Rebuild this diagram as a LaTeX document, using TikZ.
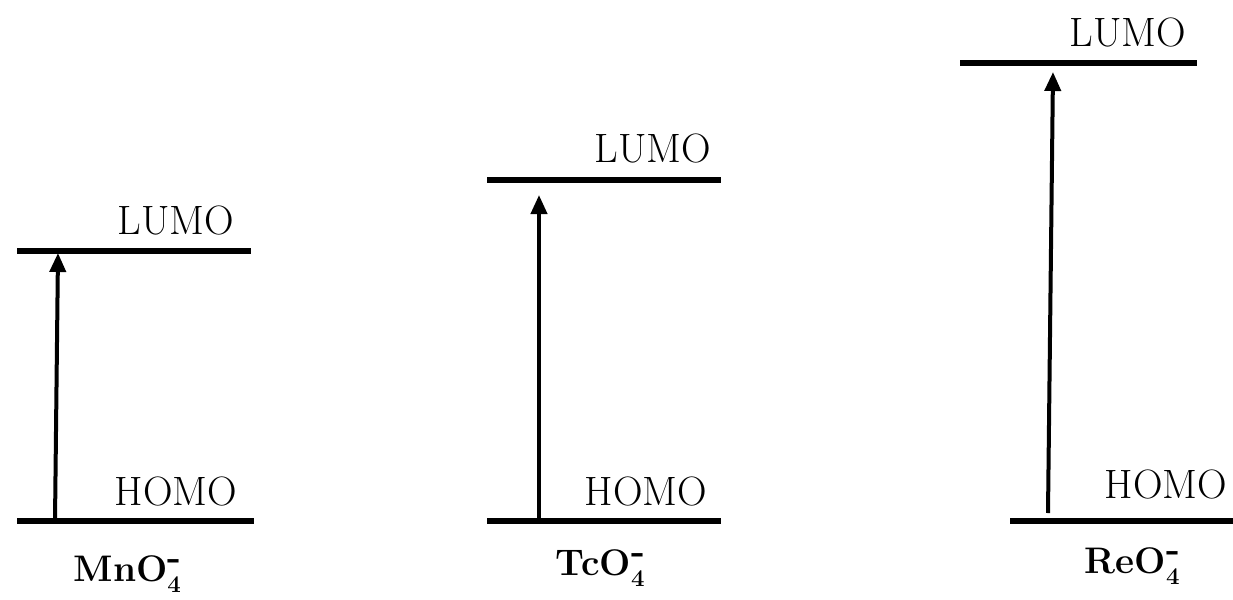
\documentclass[tikz,border=0pt]{standalone}
\usetikzlibrary{arrows.meta}
\begin{document}
\begin{tikzpicture}[x=0.5pt,y=-0.5pt,
  level/.style={line width=2.6pt},
  trans/.style={line width=2pt,-{Triangle[length=9.5pt,width=8pt]}},
  lab/.style={font=\fontsize{20.5}{24}\selectfont,inner sep=0pt},
  ion/.style={font=\fontsize{18.5}{22}\selectfont\bfseries\boldmath,inner sep=0pt}]
\useasboundingbox (0,0) rectangle (1233,600);
% MnO4-
\coordinate (mLl) at (17,251); \coordinate (mLr) at (251,251);
\coordinate (mHl) at (17,521); \coordinate (mHr) at (254,521);
\draw[level] (mLl) -- (mLr);
\draw[level] (mHl) -- (mHr);
\coordinate (mA0) at (55,521); \coordinate (mA1) at (58,253);
\draw[trans] (mA0) -- (mA1);
\node[lab] (mL) at (176,220) {LUMO};
\node[lab] (mH) at (176,491) {HOMO};
\node[ion] (mI) at (128,574) {MnO$_4^{\mbox{\bfseries -}}$};
% TcO4-
\coordinate (tLl) at (487,180); \coordinate (tLr) at (721,180);
\coordinate (tHl) at (487,521); \coordinate (tHr) at (721,521);
\draw[level] (tLl) -- (tLr);
\draw[level] (tHl) -- (tHr);
\coordinate (tA0) at (539,521); \coordinate (tA1) at (539,195);
\draw[trans] (tA0) -- (tA1);
\node[lab] (tL) at (653,148) {LUMO};
\node[lab] (tH) at (646,491) {HOMO};
\node[ion] (tI) at (601,568) {TcO$_4^{\mbox{\bfseries -}}$};
% ReO4-
\coordinate (rLl) at (960,63); \coordinate (rLr) at (1197,63);
\coordinate (rHl) at (1010,521); \coordinate (rHr) at (1233,521);
\draw[level] (rLl) -- (rLr);
\draw[level] (rHl) -- (rHr);
\coordinate (rA0) at (1048,513); \coordinate (rA1) at (1053,72);
\draw[trans] (rA0) -- (rA1);
\node[lab] (rL) at (1128,32) {LUMO};
\node[lab] (rH) at (1166,484) {HOMO};
\node[ion] (rI) at (1133,566) {ReO$_4^{\mbox{\bfseries -}}$};
\end{tikzpicture}
\end{document}
